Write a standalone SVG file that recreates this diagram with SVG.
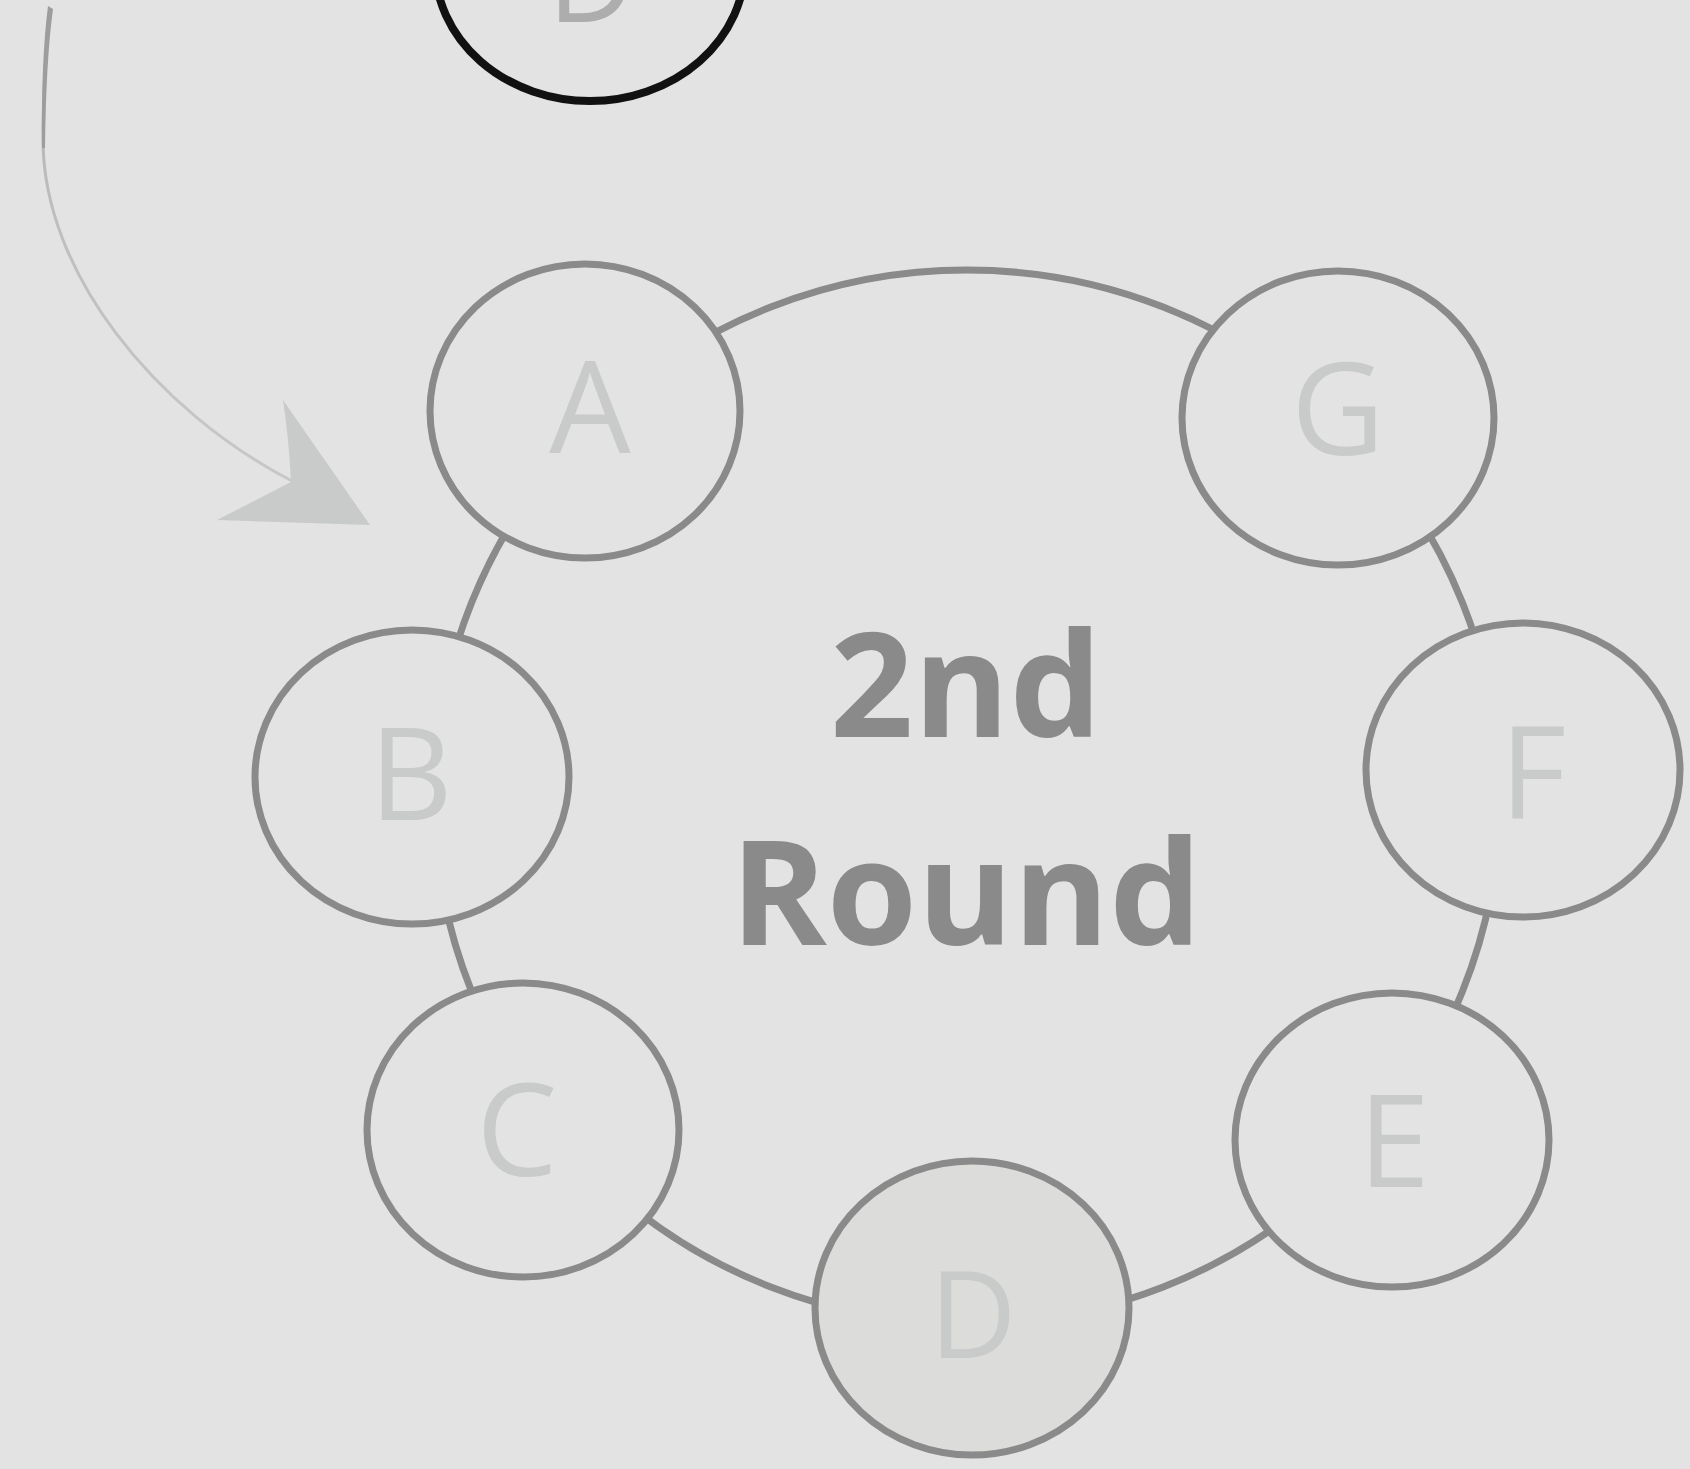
<svg xmlns="http://www.w3.org/2000/svg" width="1690" height="1469" viewBox="0 0 1690 1469">
  <defs>
    <linearGradient id="arrowGrad" gradientUnits="userSpaceOnUse" x1="0" y1="0" x2="0" y2="490">
      <stop offset="0" stop-color="#a6a7a6"/>
      <stop offset="0.4" stop-color="#bcbebd"/>
      <stop offset="1" stop-color="#c7c9c8"/>
    </linearGradient>
  </defs>
  <style>
    .node { fill: #e2e3e2; stroke: #898a89; stroke-width: 7; }
    .node-d { fill: #dcdcda; }
    .ring { fill: none; stroke: #898a89; stroke-width: 7; }
    .letter { font-family: "Open Sans", "Liberation Sans", sans-serif; font-size: 129px; fill: #c9cbca; text-anchor: middle; }
    .title { font-family: "Open Sans", "Liberation Sans", sans-serif; font-weight: 700; font-size: 146px; fill: #898a89; text-anchor: middle; }
  </style>
  <rect x="0" y="0" width="1690" height="1469" fill="#e2e3e2"/>

  <g id="connectors">
    <ellipse class="ring" cx="967" cy="797" rx="533" ry="527"/>
    <path d="M 50 8 C 45 60, 43 100, 43 140 C 43 272, 155 410, 292 481" fill="none" stroke="url(#arrowGrad)" stroke-width="3"/>
    <path d="M 48 6 L 53 9 Q 46 60 45 148 L 42 148 Q 41 60 48 6 Z" fill="#9c9d9c"/>
    <path d="M 283 400 L 370 525 L 217 520 Q 256 500 291 482 Q 289 440 283 400 Z" fill="#c9cbca"/>
  </g>

  <g id="node-top-D">
    <ellipse cx="590" cy="-35" rx="155" ry="136" fill="#e2e3e2" stroke="#111111" stroke-width="8"/>
    <text class="letter" x="591" y="22" style="font-size:120px;fill:#acadac">D</text>
  </g>

  <g id="node-A">
    <ellipse class="node" cx="585" cy="411" rx="155" ry="147"/>
    <text class="letter" x="590" y="453">A</text>
  </g>
  <g id="node-G">
    <ellipse class="node" cx="1338" cy="418" rx="156" ry="147"/>
    <text class="letter" x="1338" y="455">G</text>
  </g>
  <g id="node-B">
    <ellipse class="node" cx="412" cy="777" rx="157" ry="147"/>
    <text class="letter" x="411" y="820">B</text>
  </g>
  <g id="node-F">
    <ellipse class="node" cx="1523" cy="770" rx="157" ry="147"/>
    <text class="letter" x="1533" y="818">F</text>
  </g>
  <g id="node-C">
    <ellipse class="node" cx="523" cy="1130" rx="156" ry="147"/>
    <text class="letter" x="517" y="1176">C</text>
  </g>
  <g id="node-E">
    <ellipse class="node" cx="1392" cy="1140" rx="157" ry="147"/>
    <text class="letter" x="1394" y="1187">E</text>
  </g>
  <g id="node-D">
    <ellipse class="node node-d" cx="972" cy="1308" rx="157" ry="147"/>
    <text class="letter" x="973" y="1358" style="font-size:120px">D</text>
  </g>

  <g id="label-center">
    <text class="title" x="966" y="737">2nd</text>
    <text class="title" x="966" y="945">Round</text>
  </g>
</svg>
